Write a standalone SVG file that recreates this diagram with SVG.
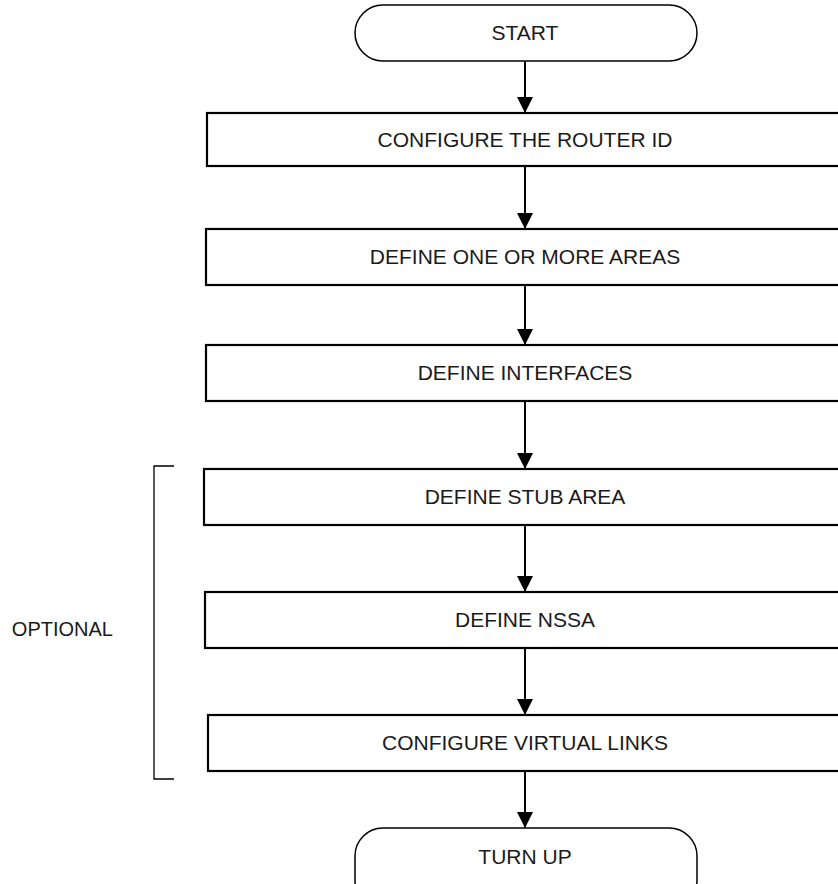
<svg xmlns="http://www.w3.org/2000/svg" width="838" height="884" viewBox="0 0 838 884">
<style>
.box{fill:#fff;stroke:#000;stroke-width:2.2}
.term{fill:#fff;stroke:#000;stroke-width:1.5}
.lbl{font-family:"Liberation Sans",Arial,sans-serif;font-size:21px;fill:#1a1a1a;text-anchor:middle}
.conn{stroke:#000;stroke-width:2;fill:none;marker-end:url(#ah)}
.br{stroke:#000;stroke-width:1.3;fill:none}
</style>
<defs>
<marker id="ah" markerUnits="userSpaceOnUse" markerWidth="16" markerHeight="16" refX="16" refY="8" orient="auto">
<path d="M0,0 L16,8 L0,16 Z" fill="#000"/>
</marker>
</defs>
<rect width="838" height="884" fill="#fff"/>
<g id="connectors">
<line class="conn" x1="525" y1="61" x2="525" y2="113"/>
<line class="conn" x1="525" y1="166" x2="525" y2="229"/>
<line class="conn" x1="525" y1="285" x2="525" y2="345"/>
<line class="conn" x1="525" y1="401" x2="525" y2="469"/>
<line class="conn" x1="525" y1="525" x2="525" y2="592"/>
<line class="conn" x1="525" y1="648" x2="525" y2="715"/>
<line class="conn" x1="525" y1="771" x2="525" y2="828"/>
</g>
<g id="start">
<rect class="term" x="355" y="5" width="342" height="56" rx="28" ry="28"/>
<text class="lbl" x="525" y="40">START</text>
</g>
<g id="n1">
<rect class="box" x="207" y="113" width="660" height="53"/>
<text class="lbl" x="525" y="147">CONFIGURE THE ROUTER ID</text>
</g>
<g id="n2">
<rect class="box" x="206" y="229" width="660" height="56"/>
<text class="lbl" x="525" y="264">DEFINE ONE OR MORE AREAS</text>
</g>
<g id="n3">
<rect class="box" x="206" y="345" width="660" height="56"/>
<text class="lbl" x="525" y="380">DEFINE INTERFACES</text>
</g>
<g id="n4">
<rect class="box" x="204" y="469" width="660" height="56"/>
<text class="lbl" x="525" y="504">DEFINE STUB AREA</text>
</g>
<g id="n5">
<rect class="box" x="205" y="592" width="660" height="56"/>
<text class="lbl" x="525" y="627">DEFINE NSSA</text>
</g>
<g id="n6">
<rect class="box" x="208" y="715" width="660" height="56"/>
<text class="lbl" x="525" y="750">CONFIGURE VIRTUAL LINKS</text>
</g>
<g id="end">
<rect class="term" x="355" y="828" width="342" height="80" rx="28" ry="28"/>
<text class="lbl" x="525" y="864">TURN UP</text>
</g>
<g id="optional">
<path class="br" d="M174,466 H154 V779 H174"/>
<text class="lbl" x="113" y="636" style="text-anchor:end;font-size:20px">OPTIONAL</text>
</g>
</svg>
